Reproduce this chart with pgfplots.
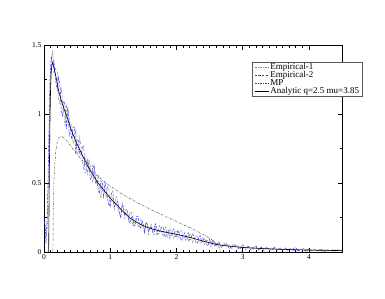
\documentclass[border=0pt]{standalone}
\usepackage{fontspec}
\setmainfont{Liberation Serif}
\usepackage{pgfplots}
\pgfplotsset{compat=1.18}
\begin{document}
\begin{tikzpicture}
\useasboundingbox (-44pt,-46pt) rectangle (341pt,252pt);
\begin{axis}[
  scale only axis, width=298pt, height=207pt,
  xmin=0, xmax=4.5, ymin=0, ymax=1.5,
  xtick={0,1,2,3,4}, minor x tick num=9,
  ytick={0,0.5,1,1.5}, minor y tick num=1,
  tick align=inside,
  major tick length=4.5pt, minor tick length=2.5pt,
  every tick/.style={black, line width=0.5pt},
  axis line style={black, line width=0.6pt},
  tick label style={font=\fontsize{7.5}{8}\selectfont},
  /pgf/number format/assume math mode=true,
  xticklabel style={yshift=1pt},
  yticklabel style={xshift=1pt},
  legend cell align=left,
  legend style={at={(0.698,0.918)}, anchor=north west, draw=black!65, line width=0.5pt,
    font=\fontsize{9}{8}\selectfont, fill=white, inner xsep=2pt, inner ysep=1pt,
    row sep=0pt,
    nodes={text height=6.1pt, text depth=1.6pt, inner ysep=0.2pt, inner xsep=1.5pt}},
  legend image code/.code={\draw[#1] (0pt,0pt) -- (14pt,0pt);},
]
% Empirical-1
\addplot[gray, line width=0.45pt, dash pattern=on 2.5pt off 1pt on 0.6pt off 1pt] coordinates {
(0.01,0.22)(0.03,0.12)(0.05,0.18)(0.07,0.55)(0.09,1.15)(0.11,1.38)(0.13,1.46)(0.15,1.30)(0.17,1.33)
(0.20,1.309)(0.22,1.109)(0.24,1.078)(0.26,1.195)(0.28,1.098)(0.30,1.003)(0.32,0.907)(0.34,1.061)
(0.36,1.022)(0.38,0.834)(0.40,0.909)(0.42,0.925)(0.44,0.784)(0.46,0.809)(0.48,0.889)(0.50,0.708)
(0.52,0.729)(0.54,0.832)(0.56,0.759)(0.58,0.655)(0.60,0.605)(0.62,0.684)(0.64,0.659)(0.66,0.555)
(0.68,0.665)(0.70,0.625)(0.72,0.528)(0.74,0.504)(0.76,0.628)(0.78,0.539)(0.80,0.491)(0.82,0.568)
(0.84,0.429)(0.86,0.393)(0.88,0.500)(0.90,0.493)(0.92,0.432)(0.94,0.397)(0.96,0.473)(0.98,0.453)
(1.00,0.318)(1.02,0.397)(1.04,0.391)(1.06,0.306)(1.08,0.388)(1.10,0.402)(1.12,0.305)(1.14,0.285)
(1.16,0.256)(1.18,0.329)(1.20,0.334)(1.22,0.239)(1.24,0.281)(1.26,0.281)(1.28,0.227)(1.30,0.287)
(1.32,0.292)(1.34,0.186)(1.36,0.193)(1.38,0.242)(1.40,0.227)(1.42,0.185)(1.44,0.198)(1.46,0.240)
(1.48,0.228)(1.50,0.178)(1.52,0.132)(1.54,0.209)(1.56,0.202)(1.58,0.129)(1.60,0.177)(1.62,0.200)
(1.64,0.142)(1.66,0.171)(1.68,0.197)(1.70,0.126)(1.72,0.141)(1.74,0.192)(1.76,0.169)(1.78,0.135)
(1.80,0.116)(1.82,0.165)(1.84,0.181)(1.86,0.107)(1.88,0.134)(1.90,0.168)(1.92,0.150)(1.94,0.127)
(1.96,0.099)(1.98,0.146)(2.00,0.151)(2.02,0.100)(2.04,0.115)(2.06,0.158)(2.08,0.157)(2.10,0.102)
(2.12,0.097)(2.14,0.122)(2.16,0.111)(2.18,0.075)(2.20,0.133)(2.22,0.123)(2.24,0.070)(2.26,0.089)
(2.28,0.105)(2.30,0.121)(2.32,0.107)(2.34,0.071)(2.36,0.064)(2.38,0.092)(2.40,0.106)(2.42,0.055)
(2.44,0.062)(2.46,0.090)(2.48,0.074)(2.50,0.062)(2.52,0.038)(2.54,0.075)(2.56,0.078)(2.58,0.035)
(2.60,0.054)(2.64,0.063)(2.68,0.032)(2.72,0.068)(2.76,0.039)(2.80,0.053)(2.84,0.022)(2.88,0.046)
(2.92,0.051)(2.96,0.025)(3.00,0.036)(3.04,0.014)(3.08,0.043)(3.12,0.030)(3.16,0.021)(3.20,0.045)
(3.24,0.014)(3.28,0.030)(3.32,0.022)(3.36,0.038)(3.40,0.007)(3.44,0.030)(3.48,0.023)(3.52,0.012)
(3.56,0.031)(3.60,0.015)(3.64,0.027)(3.68,0.006)(3.72,0.021)(3.76,0.031)(3.80,0.009)(3.84,0.015)
(3.88,0.024)(3.92,0.006)(3.96,0.019)(4.00,0.025)
(4.04,0.009)(4.08,0.014)(4.12,0.011)(4.16,0.019)(4.20,0.004)(4.24,0.016)(4.28,0.017)(4.32,0.009)
(4.36,0.006)(4.40,0.018)(4.44,0.009)(4.48,0.012)(4.52,0.011)
};
\addlegendentry{Empirical-1}
% Empirical-2
\addplot[blue!80!white, line width=0.45pt, dash pattern=on 2.5pt off 1.2pt] coordinates {
(0.01,0.25)(0.03,0.06)(0.05,0.28)(0.07,0.75)(0.09,1.25)(0.11,1.42)(0.13,1.36)(0.15,1.39)(0.17,1.26)
(0.20,1.171)(0.22,1.266)(0.24,1.212)(0.26,1.024)(0.28,0.986)(0.30,1.095)(0.32,1.051)(0.34,0.892)
(0.36,1.049)(0.38,0.956)(0.40,0.875)(0.42,0.816)(0.44,0.900)(0.46,0.907)(0.48,0.712)(0.50,0.812)
(0.52,0.814)(0.54,0.702)(0.56,0.705)(0.58,0.760)(0.60,0.770)(0.62,0.573)(0.64,0.587)(0.66,0.669)
(0.68,0.629)(0.70,0.528)(0.72,0.534)(0.74,0.632)(0.76,0.602)(0.78,0.500)(0.80,0.516)(0.82,0.447)
(0.84,0.423)(0.86,0.517)(0.88,0.494)(0.90,0.389)(0.92,0.504)(0.94,0.450)(0.96,0.390)(0.98,0.334)
(1.00,0.351)(1.02,0.430)(1.04,0.441)(1.06,0.328)(1.08,0.340)(1.10,0.366)(1.12,0.360)(1.14,0.270)
(1.16,0.250)(1.18,0.354)(1.20,0.310)(1.22,0.267)(1.24,0.310)(1.26,0.300)(1.28,0.232)(1.30,0.207)
(1.32,0.248)(1.34,0.259)(1.36,0.188)(1.38,0.200)(1.40,0.257)(1.42,0.259)(1.44,0.193)(1.46,0.168)
(1.48,0.224)(1.50,0.202)(1.52,0.143)(1.54,0.216)(1.56,0.199)(1.58,0.152)(1.60,0.172)(1.62,0.185)
(1.64,0.145)(1.66,0.124)(1.68,0.205)(1.70,0.183)(1.72,0.128)(1.74,0.143)(1.76,0.162)(1.78,0.184)
(1.80,0.179)(1.82,0.121)(1.84,0.109)(1.86,0.158)(1.88,0.160)(1.90,0.098)(1.92,0.123)(1.94,0.160)
(1.96,0.168)(1.98,0.117)(2.00,0.106)(2.02,0.161)(2.04,0.130)(2.06,0.102)(2.08,0.082)(2.10,0.126)
(2.12,0.139)(2.14,0.086)(2.16,0.126)(2.18,0.138)(2.20,0.088)(2.22,0.097)(2.24,0.130)(2.26,0.115)
(2.28,0.087)(2.30,0.062)(2.32,0.066)(2.34,0.111)(2.36,0.118)(2.38,0.069)(2.40,0.077)(2.42,0.095)
(2.44,0.089)(2.46,0.052)(2.48,0.045)(2.50,0.092)(2.52,0.074)(2.54,0.055)(2.56,0.081)(2.58,0.068)
(2.60,0.045)(2.64,0.075)(2.68,0.035)(2.72,0.052)(2.76,0.059)(2.80,0.023)(2.84,0.049)(2.88,0.056)
(2.92,0.030)(2.96,0.022)(3.00,0.053)(3.04,0.029)(3.08,0.042)(3.12,0.017)(3.16,0.033)(3.20,0.042)
(3.24,0.017)(3.28,0.036)(3.32,0.010)(3.36,0.030)(3.40,0.025)(3.44,0.013)(3.48,0.036)(3.52,0.017)
(3.56,0.026)(3.60,0.007)(3.64,0.030)(3.68,0.015)(3.72,0.027)(3.76,0.008)(3.80,0.031)(3.84,0.010)
(3.88,0.018)(3.92,0.024)(3.96,0.004)(4.00,0.020)
(4.04,0.012)(4.08,0.021)(4.12,0.009)(4.16,0.014)(4.20,0.018)(4.24,0.004)(4.28,0.015)(4.32,0.010)
(4.36,0.016)(4.40,0.007)(4.44,0.016)(4.48,0.008)(4.52,0.012)
};
\addlegendentry{Empirical-2}
% MP
\addplot[black!75, line width=0.45pt, dash pattern=on 2pt off 1.3pt on 0.5pt off 1.3pt] coordinates {
(0,0)(0.1351,0)(0.14,0.316)(0.15,0.513)(0.16,0.621)(0.18,0.738)(0.20,0.796)(0.23,0.832)(0.26,0.839)
(0.30,0.828)(0.35,0.802)(0.40,0.770)(0.50,0.707)(0.60,0.650)(0.70,0.599)(0.80,0.554)(0.90,0.514)
(1.00,0.477)(1.20,0.414)(1.40,0.360)(1.60,0.311)(1.80,0.265)(2.00,0.222)(2.20,0.177)(2.35,0.141)
(2.45,0.115)(2.55,0.082)(2.62,0.051)(2.65,0.029)(2.6649,0)(4.5,0)
};
\addlegendentry{MP}
% Analytic
\addplot[black, line width=0.6pt] coordinates {
(0.07,0)(0.08,0.55)(0.09,0.95)(0.10,1.20)(0.11,1.31)(0.12,1.36)(0.13,1.37)(0.15,1.34)(0.18,1.27)
(0.22,1.17)(0.26,1.10)(0.30,1.04)(0.34,0.99)(0.40,0.90)(0.44,0.85)(0.50,0.78)(0.54,0.74)(0.60,0.68)
(0.70,0.59)(0.80,0.51)(0.90,0.45)(1.00,0.39)(1.10,0.34)(1.20,0.29)(1.30,0.245)(1.40,0.215)
(1.50,0.19)(1.60,0.172)(1.75,0.152)(2.00,0.128)(2.15,0.112)(2.30,0.093)(2.45,0.073)(2.60,0.055)
(2.80,0.042)(3.00,0.033)(3.25,0.026)(3.50,0.021)(3.75,0.017)(4.00,0.014)(4.25,0.012)(4.50,0.010)
};
\addlegendentry{Analytic q=2.5 mu=3.85}
\end{axis}
\end{tikzpicture}
\end{document}
